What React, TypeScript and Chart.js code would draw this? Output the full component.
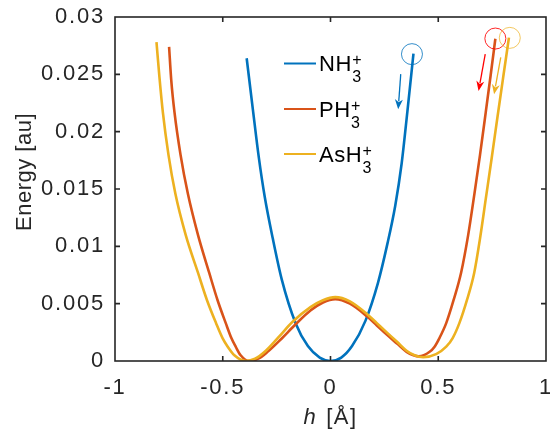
import React, { useEffect, useRef } from 'react';
import { Chart, registerables } from 'chart.js';

Chart.register(...registerables);

// ---- data ----
const hNH3 = [-0.389, -0.36, -0.333, -0.305, -0.268, -0.226, -0.162, -0.105, -0.05, 0, 0.05, 0.1, 0.162, 0.22, 0.265, 0.3, 0.33, 0.357, 0.385];
const eNH3 = [0.0264, 0.0219, 0.0178, 0.0143, 0.0107, 0.0071, 0.0033, 0.0013, 0.0003, 0, 0.0003, 0.0013, 0.0035, 0.0068, 0.0103, 0.0135, 0.0172, 0.0218, 0.0268];

const hPH3 = [
  -0.749, -0.739, -0.724, -0.696, -0.662, -0.615, -0.563, -0.524, -0.486, -0.46, -0.44, -0.417, -0.378,
  -0.335, -0.292, -0.23, -0.162, -0.093, -0.035, 0.022, 0.09, 0.169, 0.215, 0.261, 0.31, 0.353, 0.385,
  0.41, 0.46, 0.483, 0.5055, 0.537, 0.571, 0.606, 0.639, 0.668, 0.694, 0.7205, 0.743, 0.765,
];
const ePH3 = [
  0.0274, 0.0245, 0.0217, 0.018, 0.0146, 0.011, 0.0077, 0.0053, 0.0033, 0.002, 0.00125, 0.0005, 0,
  0.0002, 0.0008, 0.0019, 0.0032, 0.0044, 0.0051, 0.0054, 0.005, 0.0039, 0.0031, 0.0023, 0.0015, 0.0008, 0.0005,
  0.0004, 0.0008, 0.00125, 0.002, 0.0033, 0.0053, 0.0077, 0.011, 0.0146, 0.018, 0.0217, 0.0249, 0.0281,
];

const hAsH3 = [
  -0.8075, -0.794, -0.778, -0.752, -0.72, -0.672, -0.615, -0.573, -0.531, -0.501, -0.477, -0.446, -0.393,
  -0.35, -0.3, -0.24, -0.177, -0.093, -0.035, 0.022, 0.09, 0.169, 0.215, 0.261, 0.31, 0.353, 0.39,
  0.43, 0.49, 0.537, 0.567, 0.598, 0.633, 0.667, 0.694, 0.721, 0.748, 0.775, 0.801, 0.828,
];
const eAsH3 = [
  0.0278, 0.0248, 0.0217, 0.018, 0.0146, 0.011, 0.0077, 0.0053, 0.0033, 0.002, 0.00125, 0.0005, 0,
  0.0002, 0.0009, 0.0021, 0.0034, 0.0047, 0.0053, 0.00557, 0.0052, 0.0041, 0.0033, 0.0025, 0.00165, 0.0009, 0.0005,
  0.00033, 0.0006, 0.00125, 0.002, 0.0033, 0.0053, 0.0077, 0.0107, 0.0142, 0.0177, 0.0213, 0.0247, 0.0282,
];

const legendBase = ['NH', 'PH', 'AsH'];
const legendSub = ['3', '3', '3'];
const legendSup = ['+', '+', '+'];
const colors = ['#0072BD', '#D95319', '#EDB120'];

// annotation marks (data coordinates)
const circleH = [0.378, 0.765, 0.832];
const circleE = [0.02676, 0.02812, 0.02818];
const circleColors = ['rgba(0,114,189,0.8)', 'rgba(255,0,0,0.85)', 'rgba(237,177,32,0.7)'];
const arrowFromH = [0.326, 0.718, 0.79];
const arrowFromE = [0.02502, 0.02676, 0.02648];
const arrowToH = [0.314, 0.687, 0.759];
const arrowToE = [0.02195, 0.02355, 0.02326];
const arrowColors = ['#0072BD', '#FF0000', '#EDB120'];

const xMin = -1, xMax = 1, xStep = 0.5;
const yMin = 0, yMax = 0.03, yStep = 0.005;

const FONT = '"Liberation Sans", Arial, Helvetica, sans-serif';
const AXIS_COLOR = '#262626';

function toPoints(h: number[], e: number[]) {
  return h.map((v, i) => ({ x: v, y: e[i] }));
}

const spacingPlugin = {
  id: 'spacing',
  beforeDraw(chart: any) {
    chart.ctx.letterSpacing = '1.8px';
  },
};

const decorPlugin = {
  id: 'decor',
  afterDatasetsDraw(chart: any) {
    const { ctx, chartArea: a, scales } = chart;
    const xs = scales.x, ys = scales.y;
    ctx.save();
    ctx.letterSpacing = '0px';

    // circles
    for (let i = 0; i < circleH.length; i++) {
      ctx.beginPath();
      ctx.strokeStyle = circleColors[i];
      ctx.lineWidth = 1;
      ctx.arc(xs.getPixelForValue(circleH[i]), ys.getPixelForValue(circleE[i]), 10.5, 0, Math.PI * 2);
      ctx.stroke();
    }
    // arrows
    for (let i = 0; i < arrowFromH.length; i++) {
      const x1 = xs.getPixelForValue(arrowFromH[i]);
      const y1 = ys.getPixelForValue(arrowFromE[i]);
      const x2 = xs.getPixelForValue(arrowToH[i]);
      const y2 = ys.getPixelForValue(arrowToE[i]);
      const ang = Math.atan2(y2 - y1, x2 - x1);
      const headLen = 10, headW = 4;
      const bx = x2 - headLen * Math.cos(ang);
      const by = y2 - headLen * Math.sin(ang);
      ctx.strokeStyle = arrowColors[i];
      ctx.fillStyle = arrowColors[i];
      ctx.lineWidth = 1.3;
      ctx.beginPath();
      ctx.moveTo(x1, y1);
      ctx.lineTo(bx + 2 * Math.cos(ang), by + 2 * Math.sin(ang));
      ctx.stroke();
      const nx = -Math.sin(ang), ny = Math.cos(ang);
      const nbx = x2 - (headLen - 3) * Math.cos(ang);
      const nby = y2 - (headLen - 3) * Math.sin(ang);
      ctx.beginPath();
      ctx.moveTo(x2, y2);
      ctx.lineTo(bx + nx * headW, by + ny * headW);
      ctx.lineTo(nbx, nby);
      ctx.lineTo(bx - nx * headW, by - ny * headW);
      ctx.closePath();
      ctx.fill();
    }

    // frame
    ctx.strokeStyle = AXIS_COLOR;
    ctx.lineWidth = 1.6;
    ctx.strokeRect(a.left, a.top, a.right - a.left, a.bottom - a.top);
    // inward tick marks
    const tl = 5;
    xs.ticks.forEach((t: any) => {
      const px = xs.getPixelForValue(t.value);
      if (px <= a.left + 1 || px >= a.right - 1) return;
      ctx.beginPath();
      ctx.moveTo(px, a.bottom); ctx.lineTo(px, a.bottom - tl);
      ctx.moveTo(px, a.top); ctx.lineTo(px, a.top + tl);
      ctx.stroke();
    });
    ys.ticks.forEach((t: any) => {
      const py = ys.getPixelForValue(t.value);
      if (py <= a.top + 1 || py >= a.bottom - 1) return;
      ctx.beginPath();
      ctx.moveTo(a.left, py); ctx.lineTo(a.left + tl, py);
      ctx.moveTo(a.right, py); ctx.lineTo(a.right - tl, py);
      ctx.stroke();
    });

    // legend
    const legX = 284, lineLen = 32, textX = 319;
    const baselines = [71, 116.5, 161.5];
    ctx.letterSpacing = '0.5px';
    for (let i = 0; i < legendBase.length; i++) {
      const b = baselines[i];
      ctx.strokeStyle = colors[i];
      ctx.lineWidth = 2;
      ctx.beginPath();
      ctx.moveTo(legX, b - 7.5);
      ctx.lineTo(legX + lineLen, b - 7.5);
      ctx.stroke();
      ctx.fillStyle = '#000';
      ctx.textAlign = 'left';
      ctx.textBaseline = 'alphabetic';
      ctx.font = `22px ${FONT}`;
      ctx.fillText(legendBase[i], textX, b);
      const w = ctx.measureText(legendBase[i]).width;
      ctx.font = `16px ${FONT}`;
      ctx.fillText(legendSub[i], textX + w + 0.5, b + 11);
      ctx.fillText(legendSup[i], textX + w + 0.5, b - 6);
    }

    // x title: italic h + [Å]
    ctx.fillStyle = AXIS_COLOR;
    ctx.textAlign = 'left';
    ctx.textBaseline = 'alphabetic';
    ctx.letterSpacing = '1.5px';
    ctx.font = `italic 22px ${FONT}`;
    const hW = ctx.measureText('h').width;
    ctx.font = `22px ${FONT}`;
    const bW = ctx.measureText('[Å]').width;
    const gap = 9;
    const total = hW + gap + bW;
    const cx = (a.left + a.right) / 2;
    ctx.font = `italic 22px ${FONT}`;
    ctx.fillText('h', cx - total / 2, 424);
    ctx.font = `22px ${FONT}`;
    ctx.fillText('[Å]', cx - total / 2 + hW + gap, 424);

    // y title
    ctx.letterSpacing = '0.5px';
    ctx.translate(31, 172);
    ctx.rotate(-Math.PI / 2);
    ctx.textAlign = 'center';
    ctx.fillText('Energy [au]', 0, 0);

    ctx.restore();
  },
};

export default function App() {
  const ref = useRef<HTMLCanvasElement | null>(null);
  useEffect(() => {
    if (!ref.current) return;
    const common = {
      showLine: true,
      pointRadius: 0,
      borderWidth: 2.6,
      cubicInterpolationMode: 'monotone' as const,
      fill: false,
    };
    const chart = new Chart(ref.current, {
      type: 'scatter',
      data: {
        datasets: [
          { ...common, label: 'NH3+', data: toPoints(hNH3, eNH3), borderColor: colors[0], backgroundColor: colors[0], order: 2 },
          { ...common, label: 'PH3+', data: toPoints(hPH3, ePH3), borderColor: colors[1], backgroundColor: colors[1], order: 1 },
          { ...common, label: 'AsH3+', data: toPoints(hAsH3, eAsH3), borderColor: colors[2], backgroundColor: colors[2], order: 0 },
        ],
      },
      options: {
        animation: false,
        responsive: false,
        layout: { padding: { top: 17, right: 4, left: 0, bottom: 0 } },
        plugins: { legend: { display: false }, tooltip: { enabled: false }, title: { display: false } },
        scales: {
          x: {
            type: 'linear',
            min: xMin,
            max: xMax,
            border: { display: false },
            grid: { display: false, drawTicks: false },
            ticks: {
              stepSize: xStep,
              color: AXIS_COLOR,
              font: { family: FONT, size: 22 },
              padding: 14,
              maxRotation: 0,
              callback: (v: any) => String(Number(Number(v).toFixed(2))),
            },
            afterFit: (s: any) => {
              s.height = 71;
              s.paddingLeft = 0;
              s.paddingRight = 0;
            },
          },
          y: {
            type: 'linear',
            min: yMin,
            max: yMax,
            border: { display: false },
            grid: { display: false, drawTicks: false },
            ticks: {
              stepSize: yStep,
              color: AXIS_COLOR,
              font: { family: FONT, size: 22 },
              padding: 10,
              callback: (v: any) => String(Number(Number(v).toFixed(3))),
            },
            afterFit: (s: any) => {
              s.width = 115;
              s.paddingTop = 0;
              s.paddingBottom = 0;
            },
          },
        },
      },
      plugins: [spacingPlugin, decorPlugin],
    } as any);
    return () => chart.destroy();
  }, []);
  return (
    <div style={{ position: 'absolute', left: 0, top: 0, width: 550, height: 432, background: '#fff' }}>
      <canvas ref={ref} width={550} height={432} style={{ display: 'block' }} />
    </div>
  );
}
